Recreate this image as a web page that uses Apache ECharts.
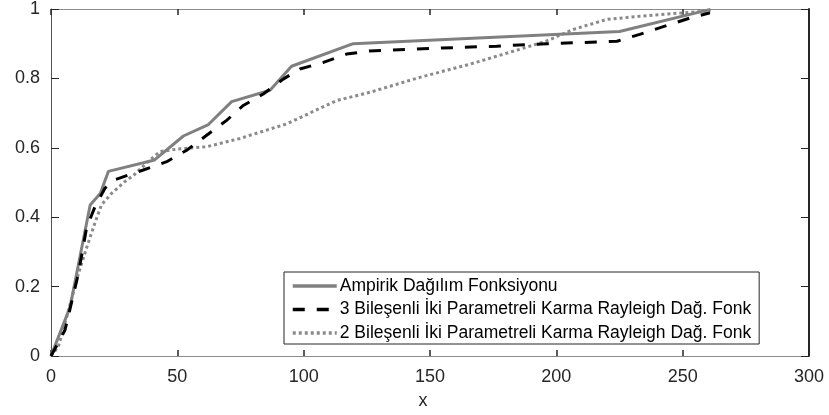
<!DOCTYPE html>
<html>
<head>
<meta charset="utf-8">
<script src="https://cdn.jsdelivr.net/npm/echarts@6/dist/echarts.min.js"></script>
<style>html,body{margin:0;padding:0;background:#fff}#c{width:829px;height:415px}</style>
</head>
<body>
<div id="c"></div>
<script>
var xTicks = [0, 50, 100, 150, 200, 250, 300];
var yTicks = [0, 0.2, 0.4, 0.6, 0.8, 1];
var seriesNames = ['Ampirik Dağılım Fonksiyonu', '3 Bileşenli İki Parametreli Karma Rayleigh Dağ. Fonk', '2 Bileşenli İki Parametreli Karma Rayleigh Dağ. Fonk'];
var empX = [0, 7.5, 15.5, 19.5, 22.7, 41, 52.4, 62.3, 71.5, 86.7, 95.2, 119.6, 225, 261];
var empY = [0, 0.14, 0.435, 0.468, 0.532, 0.565, 0.634, 0.667, 0.733, 0.766, 0.835, 0.9, 0.935, 0.999];
var mix3X = [0, 5.5, 10.8, 14.1, 17.4, 21.4, 25.3, 36.5, 45.8, 53.7, 61.6, 69.5, 76.1, 84, 91.9, 98.5, 107.8, 117, 126, 152.6, 176.4, 196.2, 224, 233, 243.6, 252.9, 260.8];
var mix3Y = [0, 0.074, 0.236, 0.37, 0.43, 0.484, 0.508, 0.536, 0.56, 0.593, 0.636, 0.679, 0.722, 0.755, 0.798, 0.827, 0.846, 0.87, 0.879, 0.887, 0.893, 0.9, 0.907, 0.927, 0.952, 0.974, 0.989];
var mix2X = [0, 2.9, 6.9, 10.8, 14.1, 17.4, 20, 24, 29.3, 32.6, 39.2, 43.1, 49.7, 61.6, 74.8, 93.3, 113, 126.2, 146, 165.8, 185.6, 196.2, 206.7, 219.9, 233, 250.2, 261];
var mix2Y = [0, 0.027, 0.131, 0.236, 0.312, 0.384, 0.436, 0.469, 0.503, 0.52, 0.565, 0.589, 0.596, 0.603, 0.627, 0.669, 0.736, 0.76, 0.803, 0.841, 0.884, 0.908, 0.941, 0.97, 0.979, 0.989, 0.995];

function pairs(xs, ys) { return xs.map(function (x, i) { return [x, ys[i]]; }); }

var font = 'Liberation Sans, Arial, sans-serif';
var chart = echarts.init(document.getElementById('c'), null, {renderer: 'canvas'});
chart.setOption({
  animation: false,
  backgroundColor: '#fff',
  grid: {left: 51, right: 20, top: 6, bottom: 59, containLabel: false},
  xAxis: [{
    type: 'value', min: xTicks[0], max: xTicks[xTicks.length - 1], interval: 50, position: 'bottom',
    name: 'x', nameLocation: 'middle', nameGap: 36,
    nameTextStyle: {color: '#262626', fontSize: 18, fontFamily: font, padding: [0, 14, 0, 0]},
    axisLine: {onZero: false, lineStyle: {color: '#8c8c8c', width: 1}},
    axisTick: {inside: true, length: 6, lineStyle: {color: '#262626', width: 1.5}},
    axisLabel: {color: '#262626', fontSize: 18, fontFamily: font, margin: 12},
    splitLine: {show: false}
  }, {
    type: 'value', min: xTicks[0], max: xTicks[xTicks.length - 1], interval: 50, position: 'top',
    axisLine: {onZero: false, lineStyle: {color: '#8c8c8c', width: 1}},
    axisTick: {inside: true, length: 6, lineStyle: {color: '#262626', width: 1.5}},
    axisLabel: {show: false}, splitLine: {show: false}
  }],
  yAxis: [{
    type: 'value', min: yTicks[0], max: yTicks[yTicks.length - 1], interval: 0.2, position: 'left',
    axisLine: {onZero: false, lineStyle: {color: '#555', width: 1}},
    axisTick: {inside: true, length: 8, lineStyle: {color: '#262626', width: 1}},
    axisLabel: {color: '#262626', fontSize: 18, fontFamily: font, margin: 11},
    splitLine: {show: false}
  }, {
    type: 'value', min: yTicks[0], max: yTicks[yTicks.length - 1], interval: 0.2, position: 'right',
    axisLine: {onZero: false, lineStyle: {color: '#262626', width: 2}},
    axisTick: {inside: true, length: 8, lineStyle: {color: '#262626', width: 1}},
    axisLabel: {show: false}, splitLine: {show: false}
  }],
  legend: {
    orient: 'vertical', left: 284, top: 272,
    padding: [5, 8, 2, 7],
    backgroundColor: '#fff', borderColor: '#262626', borderWidth: 1, borderRadius: 0,
    itemWidth: 44, itemHeight: 14, itemGap: 5.5,
    itemStyle: {opacity: 0},
    lineStyle: {width: 3.5},
    textStyle: {color: '#000', fontSize: 17.5, lineHeight: 16, fontFamily: font, padding: [0, 0, 0, -2]},
    data: seriesNames
  },
  series: [{
    name: seriesNames[0], type: 'line', symbol: 'none', data: pairs(empX, empY),
    lineStyle: {color: '#808080', width: 3}, itemStyle: {color: '#808080'}, z: 3
  }, {
    name: seriesNames[1], type: 'line', symbol: 'none', data: pairs(mix3X, mix3Y),
    lineStyle: {color: '#000', width: 3, type: [12, 12]}, itemStyle: {color: '#000'}, z: 4
  }, {
    name: seriesNames[2], type: 'line', symbol: 'none', data: pairs(mix2X, mix2Y),
    lineStyle: {color: '#8a8a8a', width: 3, type: [3, 3]}, itemStyle: {color: '#8a8a8a'}, z: 2
  }]
});
</script>
</body>
</html>
